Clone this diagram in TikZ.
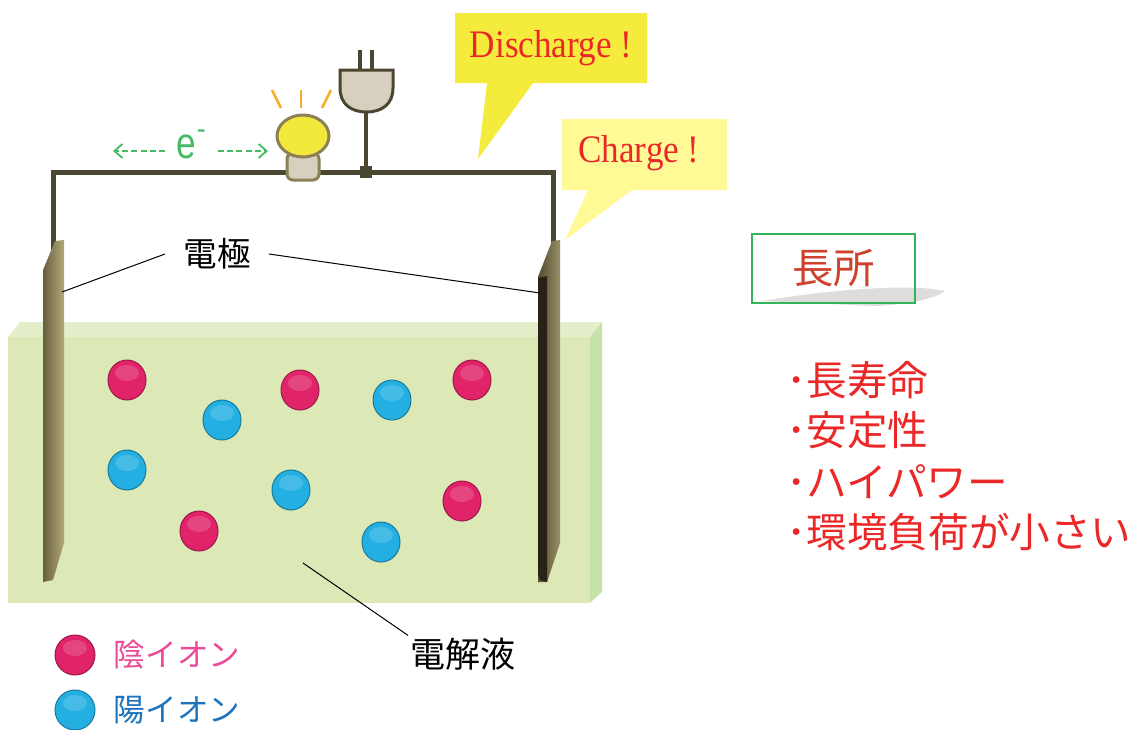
\documentclass[tikz,border=0pt]{standalone}
\usepackage{fontspec}
\setmainfont{Liberation Serif}
\newfontfamily\jpfont{Noto Sans CJK JP}
\newfontfamily\latinsans{Liberation Sans}
\definecolor{WireDark}   {RGB}{75,  70,  50}
\definecolor{PlugGrey}   {RGB}{215, 208, 190}
\definecolor{BulbYellow} {RGB}{242, 232,  60}
\definecolor{BulbEdge}   {RGB}{140, 128,  85}
\definecolor{RayOrange}  {RGB}{248, 172,  40}
\definecolor{ElecGreen}  {RGB}{ 70, 185, 100}
\definecolor{CalloutA}   {RGB}{245, 235,  60}
\definecolor{CalloutB}   {RGB}{255, 250, 150}
\definecolor{AlertRed}   {RGB}{235,  40,  40}
\definecolor{TitleRed}   {RGB}{205,  65,  45}
\definecolor{BoxGreen}   {RGB}{ 50, 180,  90}
\definecolor{LiquidFront}{RGB}{220, 232, 182}
\definecolor{LiquidTop}  {RGB}{229, 238, 202}
\definecolor{LiquidSide} {RGB}{198, 226, 170}
\definecolor{PlateDark}  {RGB}{105,  95,  60}
\definecolor{PlateLight} {RGB}{178, 168, 122}
\definecolor{PlateBlack} {RGB}{ 40,  35,  22}
\definecolor{AnionPink}  {RGB}{225,  35, 105}
\definecolor{CationBlue} {RGB}{ 35, 175, 225}
\definecolor{AnionText}  {RGB}{235,  75, 150}
\definecolor{CationText} {RGB}{ 30, 115, 190}
\usepackage{tikz}
\usetikzlibrary{
  shapes.geometric,
  arrows.meta,
  positioning
}

\begin{document}
\begin{tikzpicture}[
  x=0.5pt, y=-0.5pt,
  ion/.style={
    ellipse, inner sep=0pt,
    minimum width=19pt, minimum height=20pt,
    line width=0.5pt,
    path picture={
      \fill[white, opacity=0.16]
        ([yshift=3.5pt]path picture bounding box.center)
        ellipse [x radius=6pt, y radius=4pt];}},
  anion/.style={ion, fill=AnionPink, draw=AnionPink!70!black},
  cation/.style={ion, fill=CationBlue, draw=CationBlue!70!black},
  wire/.style={WireDark, line width=2.5pt},
  leader/.style={black, line width=0.5pt},
  earrow/.style={
    ElecGreen, line width=0.9pt, dash pattern=on 3pt off 1.6pt,
    -{Straight Barb[length=4pt, width=7pt]}},
  jp/.style={font=\jpfont\fontsize{#1}{#1}\selectfont, inner sep=0pt},
  callout/.style={font=\fontsize{19.5}{20}\selectfont, text=AlertRed,
    inner sep=0pt},
  merit/.style={jp=20.3, text=AlertRed, anchor=west}
]
\useasboundingbox (0,0) rectangle (1141,729);

% electrolyte tank
\fill[LiquidTop]   (8,337) -- (20,322) -- (602,322) -- (590,337) -- cycle;
\fill[LiquidSide]  (590,337) -- (602,322) -- (602,592) -- (590,603) -- cycle;
\fill[LiquidFront] (8,337) rectangle (590,603);

% external circuit
\coordinate (wL) at (53,263);
\coordinate (wR) at (553,263);
\draw[wire] (wL) -- (53,172) -- (553,172) -- (wR);

% electrodes
\shade[left color=PlateDark, right color=PlateLight]
  (43,270) -- (55,241) -- (64,240) -- (64,543)
  -- (53,580) -- (43,582) -- cycle;
\shade[left color=PlateDark!80!black, right color=PlateLight!85!black]
  (538,277) -- (552,241) -- (560,240) -- (560,543)
  -- (547,582) -- (538,582) -- cycle;
\fill[PlateBlack] (538,278) -- (547,276) -- (547,582) -- (540,580)
  -- (538,574) -- cycle;
\coordinate (plateL) at (62,292);
\coordinate (plateR) at (540,293);

% bulb
\foreach \a/\b in {272/281, 301/301, 331/322}{
  \draw[RayOrange, line width=1.3pt] (\a,90) -- (\b,108);
}
\draw[BulbEdge, fill=PlugGrey, line width=1.5pt, rounded corners=3pt]
  (287,153) rectangle (319,180);
\node[ellipse, draw=BulbEdge, fill=BulbYellow, line width=1.5pt,
  minimum width=26pt, minimum height=21pt, inner sep=0pt]
  (bulb) at (303,136) {};

% plug
\draw[WireDark, line width=2pt] (360,50) -- (360,70);
\draw[WireDark, line width=2pt] (372,50) -- (372,70);
\draw[WireDark, fill=PlugGrey, line width=1.5pt]
  (340,70) -- (393,70) -- (393,88)
  .. controls (393,104) and (382,112) .. (366.5,112)
  .. controls (351,112) and (340,104) .. (340,88) -- cycle;
\coordinate (plug) at (366,112);
\coordinate (tap) at (366,172);
\draw[WireDark, line width=2pt] (plug) -- (tap);
\fill[WireDark] (360,166) rectangle (372,178);

% electron flow
\node[font=\latinsans\fontsize{22}{22}\selectfont, text=ElecGreen,
  inner sep=0pt] (elec) at (186,147) {\scalebox{0.8}[1]{e}};
\node[font=\latinsans\fontsize{14}{14}\selectfont, text=ElecGreen,
  inner sep=0pt, anchor=west] at (elec.north east) {-};
\coordinate (eL1) at (165,151);
\coordinate (eL2) at (113,151);
\coordinate (eR1) at (218,151);
\coordinate (eR2) at (268,151);
\draw[earrow] (eL1) -- (eL2);
\draw[earrow] (eR1) -- (eR2);

% speech bubbles
\fill[CalloutA] (455,13) -- (647,13) -- (647,83) -- (533,83)
  -- (478,159) -- (487,83) -- (455,83) -- cycle;
\fill[CalloutB] (562,119) -- (727,119) -- (727,190) -- (632,190)
  -- (565,240) -- (588,190) -- (562,190) -- cycle;
\node[callout] (discharge) at (551,48) {\scalebox{0.9}[1]{Discharge !}};
\node[callout] (charge) at (639,153) {\scalebox{0.9}[1]{Charge !}};

% ions
\foreach \p in {(127,380), (300,390), (472,380), (199,531), (462,501)}{
  \node[anion] at \p {};
}
\foreach \p in {(222,420), (392,400), (127,470), (291,490), (381,542)}{
  \node[cation] at \p {};
}

% labels
\node[jp=16.8, inner xsep=9pt] (kyoku) at (217,254) {電極};
\draw[leader] (kyoku.west) -- (plateL);
\draw[leader] (kyoku.east) -- (plateR);

\coordinate (liquid) at (303,563);
\node[jp=17.5, inner sep=1pt] (kaieki) at (463,654) {電解液};
\draw[leader] (liquid) -- (kaieki.north west);

% legend
\node[anion, minimum width=20pt, minimum height=20pt] (legA) at (75,655) {};
\node[cation, minimum width=20pt, minimum height=20pt] (legC) at (75,710) {};
\node[jp=15.8, text=AnionText, right=9pt of legA] (legAtext) {陰イオン};
\node[jp=15.8, text=CationText, right=9pt of legC] (legCtext) {陽イオン};

% merits
\fill[gray!45, opacity=0.6]
  (762,301) .. controls (840,288) and (915,284) .. (945,291)
  .. controls (935,299) and (905,305) .. (875,306) -- cycle;
\node[draw=BoxGreen, line width=1.3pt, minimum width=81.5pt,
  minimum height=34.5pt, inner sep=0pt] (meritbox) at (833.5,268.5) {};
\node[jp=20.7, text=TitleRed] (merittitle) at (meritbox.center) {長所};

\node[merit] (m1) at (786,380) {･長寿命};
\node[merit] (m2) at (786,430) {･安定性};
\node[merit] (m3) at (786,482) {･ハイパワー};
\node[merit] (m4) at (786,532) {･環境負荷が小さい};
\end{tikzpicture}
\end{document}
